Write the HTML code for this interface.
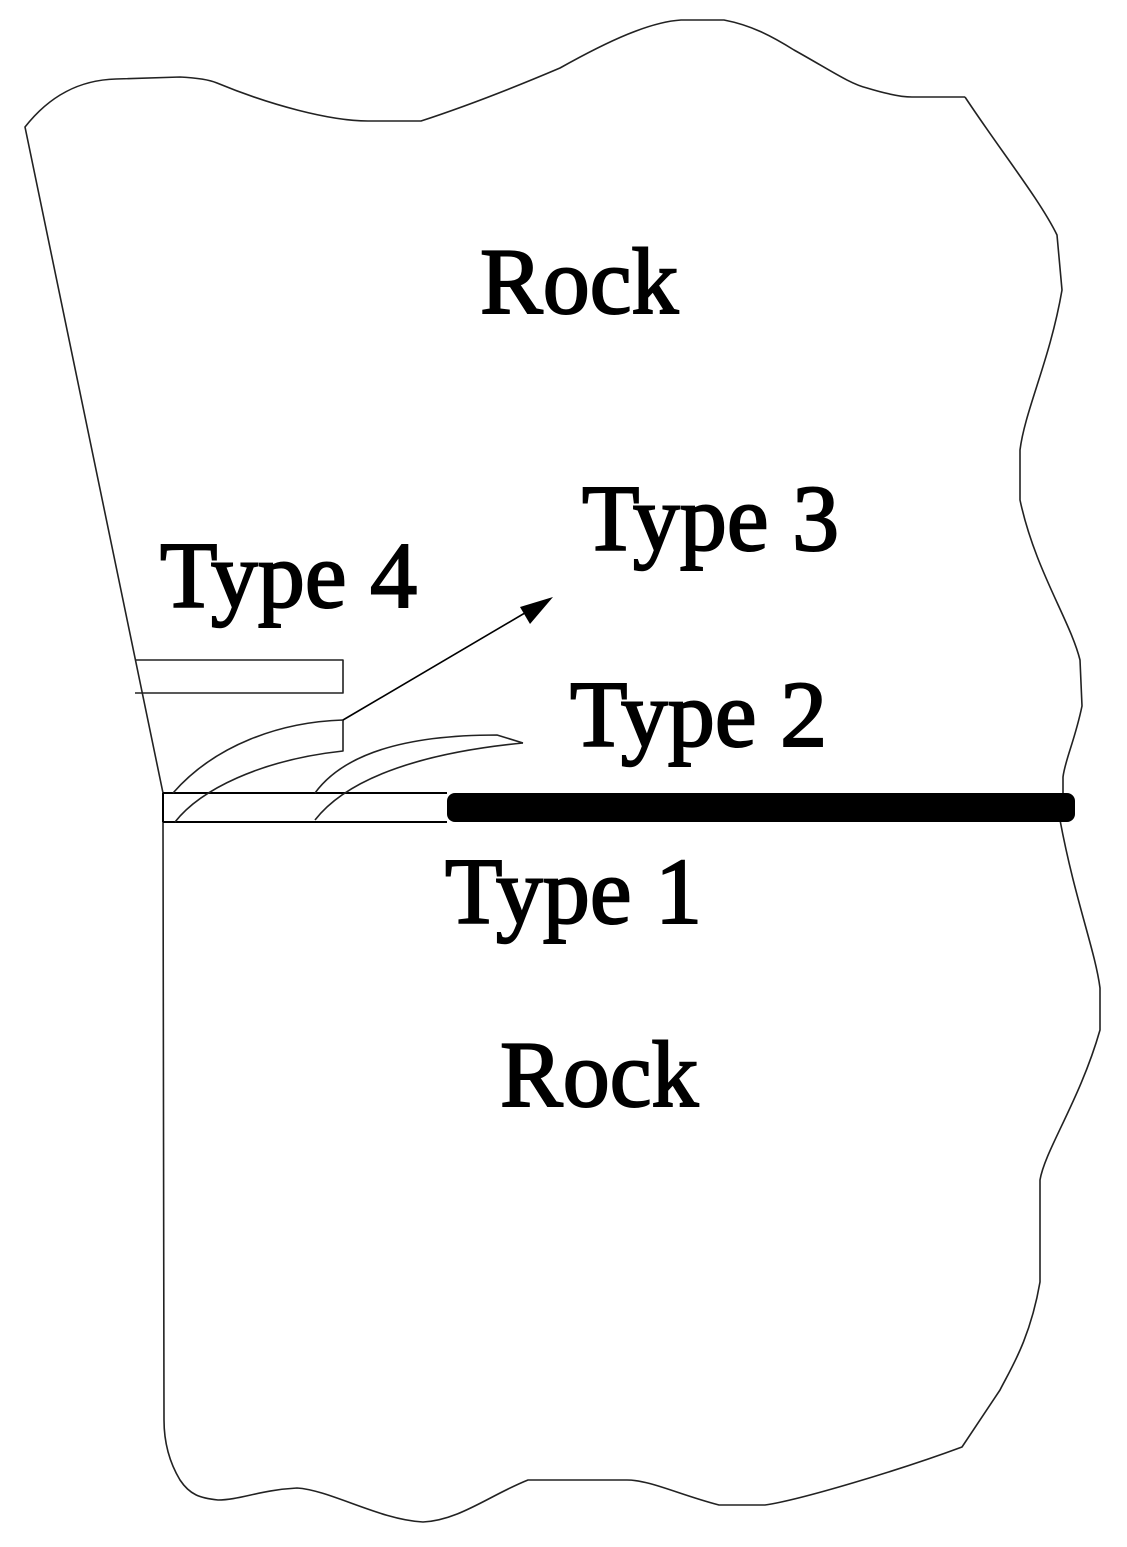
<!DOCTYPE html>
<html><head><meta charset="utf-8"><style>
html,body{margin:0;padding:0;background:#fff;}
svg{display:block;}
text{font-family:"Liberation Serif",serif;font-size:94px;fill:#000;stroke:#000;stroke-width:2px;}
</style></head><body>
<svg width="1127" height="1547" viewBox="0 0 1127 1547" xmlns="http://www.w3.org/2000/svg">
<g fill="none" stroke="#222" stroke-width="1.6" stroke-linejoin="round">
<path d="M163,793 L25,127 C50,95 80,80 116,79 L180,77 C200,78 210,80 217,83 C270,105 330,121 368,121 L421,121 C470,105 520,85 560,68 C610,40 650,22 681,20 L724,20 C750,25 770,35 794,50 C830,70 850,84 867,88 C890,95 905,97 912,97 L965,97"/>
<path d="M965,97 C1000,150 1040,200 1057,235 L1062,290 C1050,360 1025,410 1020,450 L1020,500 C1035,570 1070,620 1080,660 L1082,706 C1075,740 1065,760 1063,777 L1063,803 L1060,820 C1075,900 1095,950 1100,988 L1100,1030 C1080,1100 1045,1150 1040,1180 L1040,1282 C1030,1340 1010,1370 1000,1390 L962,1447 C900,1470 800,1500 765,1505 L719,1505 C680,1495 650,1480 627,1480 L528,1480 C490,1495 460,1520 423,1522 C380,1520 330,1490 297,1488 C260,1490 240,1500 218,1500 C200,1498 190,1495 180,1480 C168,1460 164,1440 164,1420 L163,822"/>
<path d="M135,660 L343,660 L343,693 L135,693"/>
<path d="M163,793 L447,793 M163,822 L447,822 M163,793 L163,822" stroke="#000" stroke-width="2"/>
<path d="M173,793 C215,745 280,722 343,720 L343,751 C260,760 200,790 175,822"/>
<path d="M315,793 C350,745 430,735 497,735 L523,743"/>
<path d="M315,820 C350,775 430,752 523,743"/>
<path d="M343,720 L535,607" stroke="#000" stroke-width="1.6"/>
</g>
<polygon points="553,597 520,607 530,624" fill="#000"/>
<rect x="447" y="793" width="628" height="29" rx="8" fill="#000"/>
<text x="480" y="313">Rock</text>
<text x="582" y="550">Type 3</text>
<text x="160" y="607">Type 4</text>
<text x="570" y="746">Type 2</text>
<text x="445" y="923">Type 1</text>
<text x="500" y="1106">Rock</text>
</svg>
</body></html>
